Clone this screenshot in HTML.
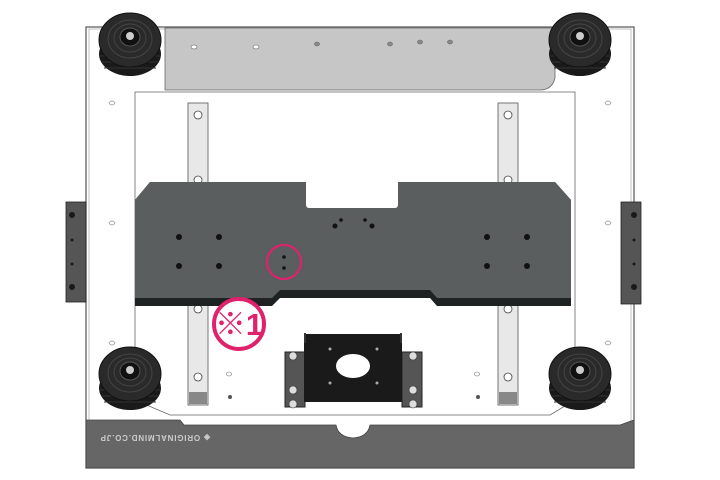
<!DOCTYPE html>
<html><head><style>html,body{margin:0;padding:0;background:#fff}svg{display:block}</style></head>
<body>
<svg width="720" height="480" viewBox="0 0 720 480" xmlns="http://www.w3.org/2000/svg">
<rect x="86" y="27" width="548" height="441" fill="#fff" stroke="#555" stroke-width="1.2"/>
<rect x="89" y="29" width="542" height="437" fill="none" stroke="#999" stroke-width="0.6"/>
<path d="M135,92 L135,400 L170,415 L550,415 L575,400 L575,92 Z" fill="#fff" stroke="#666" stroke-width="0.8"/>
<path d="M165,28 L555,28 L555,78 Q552,90 540,90 L165,90 Z" fill="#c6c6c6" stroke="#666" stroke-width="0.8"/>
<g fill="#fff" stroke="#666" stroke-width="0.6">
<ellipse cx="194" cy="47" rx="3" ry="2"/><ellipse cx="256" cy="47" rx="3" ry="2"/>
<ellipse cx="317" cy="44" rx="2.5" ry="2" fill="#888"/><ellipse cx="390" cy="44" rx="2.5" ry="2" fill="#888"/>
<ellipse cx="420" cy="42" rx="2.5" ry="2" fill="#888"/><ellipse cx="450" cy="42" rx="2.5" ry="2" fill="#888"/>
<ellipse cx="112" cy="103" rx="2.5" ry="2"/><ellipse cx="112" cy="223" rx="2.5" ry="2"/><ellipse cx="112" cy="343" rx="2.5" ry="2"/>
<ellipse cx="608" cy="103" rx="2.5" ry="2"/><ellipse cx="608" cy="223" rx="2.5" ry="2"/><ellipse cx="608" cy="343" rx="2.5" ry="2"/>
<ellipse cx="229" cy="374" rx="2.5" ry="2"/><ellipse cx="477" cy="374" rx="2.5" ry="2"/>
</g>
<circle cx="230" cy="397" r="2" fill="#555"/><circle cx="478" cy="397" r="2" fill="#555"/>
<path d="M86,420 L180,420 L184,425 L336,425 Q338,437 353,438 Q368,437 370,425 L620,425 L634,420 L634,468 L86,468 Z" fill="#666" stroke="#444" stroke-width="0.8"/>
<text x="155" y="437" transform="rotate(180 155 437)" font-family="Liberation Sans, sans-serif" font-size="8" font-weight="bold" letter-spacing="0.8" fill="#ccc" text-anchor="middle" dominant-baseline="middle">◈ ORIGINALMIND.CO.JP</text>
<g fill="#e8e8e8" stroke="#555" stroke-width="0.8">
<rect x="188" y="103" width="20" height="85"/><rect x="188" y="300" width="20" height="105"/>
<rect x="498" y="103" width="20" height="85"/><rect x="498" y="300" width="20" height="105"/>
</g>
<g fill="#fff" stroke="#444" stroke-width="0.8">
<circle cx="198" cy="115" r="4"/><circle cx="198" cy="180" r="4"/><circle cx="198" cy="309" r="4"/><circle cx="198" cy="377" r="4"/>
<circle cx="508" cy="115" r="4"/><circle cx="508" cy="180" r="4"/><circle cx="508" cy="309" r="4"/><circle cx="508" cy="377" r="4"/>
</g>
<rect x="189" y="392" width="18" height="12" fill="#888"/><rect x="499" y="392" width="18" height="12" fill="#888"/>
<rect x="66" y="202" width="20" height="100" fill="#555" stroke="#222" stroke-width="0.8"/>
<rect x="621" y="202" width="20" height="102" fill="#555" stroke="#222" stroke-width="0.8"/>
<g fill="#1a1a1a"><circle cx="72" cy="215" r="3"/><circle cx="72" cy="287" r="3"/><circle cx="72" cy="240" r="1.5"/><circle cx="72" cy="264" r="1.5"/>
<circle cx="634" cy="215" r="3"/><circle cx="634" cy="287" r="3"/><circle cx="634" cy="240" r="1.5"/><circle cx="634" cy="264" r="1.5"/></g>
<path d="M135,298 L135,200 L150,182 L306,182 L306,205 Q306,208 309,208 L395,208 Q398,208 398,205 L398,182 L555,182 L571,200 L571,306 L437,306 L430,298 L280,298 L272,306 L135,306 Z" fill="#1f2222"/>
<path d="M135,298 L135,200 L150,182 L306,182 L306,205 Q306,208 309,208 L395,208 Q398,208 398,205 L398,182 L555,182 L571,200 L571,298 L437,298 L430,290 L280,290 L272,298 Z" fill="#5a5e5e"/>
<g fill="#111">
<circle cx="179" cy="237" r="3"/><circle cx="219" cy="237" r="3"/><circle cx="179" cy="266" r="3"/><circle cx="219" cy="266" r="3"/>
<circle cx="487" cy="237" r="3"/><circle cx="527" cy="237" r="3"/><circle cx="487" cy="266" r="3"/><circle cx="527" cy="266" r="3"/>
<circle cx="335" cy="226" r="2.5"/><circle cx="372" cy="226" r="2.5"/><circle cx="341" cy="220" r="1.8"/><circle cx="365" cy="220" r="1.8"/>
<circle cx="284" cy="257" r="1.8"/><circle cx="284" cy="268" r="1.8"/>
</g>
<g>
<g id="f"><ellipse cx="130" cy="54" rx="31" ry="22" fill="#1a1a1a"/>
<g stroke="#333" stroke-width="1"><line x1="100" y1="56" x2="160" y2="56"/><line x1="101" y1="62" x2="159" y2="62"/><line x1="104" y1="68" x2="156" y2="68"/></g>
<ellipse cx="130" cy="40" rx="31" ry="27" fill="#2a2a2a" stroke="#111"/><ellipse cx="130" cy="39" rx="22" ry="19" fill="none" stroke="#444"/><ellipse cx="130" cy="38" rx="16" ry="14" fill="none" stroke="#444"/><ellipse cx="130" cy="37" rx="10" ry="9" fill="#111" stroke="#555"/><circle cx="130" cy="36" r="4" fill="#ccc"/></g>
<use href="#f" x="450"/><use href="#f" x="0" y="334"/><use href="#f" x="450" y="334"/>
</g>
<rect x="285" y="352" width="20" height="55" fill="#555" stroke="#222"/><rect x="402" y="352" width="20" height="55" fill="#555" stroke="#222"/>
<rect x="304" y="334" width="98" height="68" fill="#1a1a1a"/>
<rect x="304" y="333" width="2" height="10" fill="#333"/><rect x="400" y="333" width="2" height="10" fill="#333"/>
<ellipse cx="353" cy="366" rx="17" ry="12" fill="#fff"/>
<g fill="#ddd" stroke="#333" stroke-width="0.6"><circle cx="293" cy="356" r="4"/><circle cx="293" cy="390" r="4"/><circle cx="413" cy="356" r="4"/><circle cx="413" cy="390" r="4"/>
<circle cx="293" cy="404" r="4"/><circle cx="413" cy="404" r="4"/></g>
<g fill="#aaa"><circle cx="330" cy="349" r="1.5"/><circle cx="377" cy="349" r="1.5"/><circle cx="330" cy="383" r="1.5"/><circle cx="377" cy="383" r="1.5"/></g>
<circle cx="284" cy="262" r="17" fill="none" stroke="#e0216b" stroke-width="2.2"/>
<circle cx="239" cy="324" r="25" fill="#fff" stroke="#e0216b" stroke-width="4"/>
<text x="239" y="335" font-family="Liberation Sans, 'Noto Sans CJK JP', sans-serif" font-size="31" font-weight="bold" fill="#e0216b" text-anchor="middle">※1</text>
</svg>
</body></html>
